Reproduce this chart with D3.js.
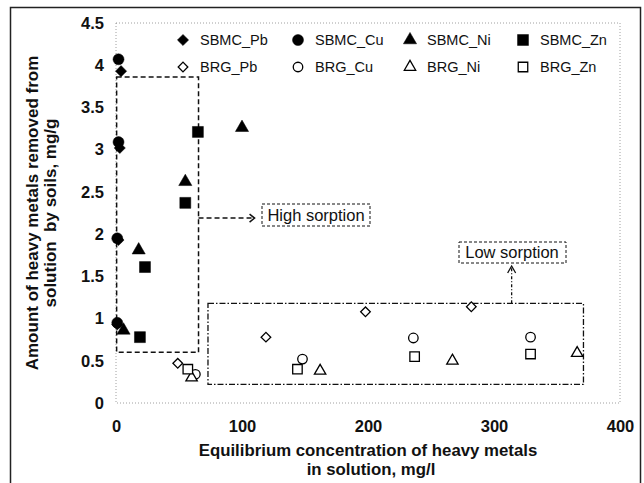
<!DOCTYPE html>
<html>
<head>
<meta charset="utf-8">
<script src="https://cdn.jsdelivr.net/npm/d3@7"></script>
<style>
  body { margin: 0; background: #fff; }
  svg { display: block; font-family: Arial, "Liberation Sans", sans-serif; }
</style>
</head>
<body>
<div id="chart"></div>
<script>
const xTicks = [0, 100, 200, 300, 400];
const yTicks = [0, 0.5, 1, 1.5, 2, 2.5, 3, 3.5, 4, 4.5];

// series: [concentration mg/l, amount mg/g]
const sbmcPb = [[4, 3.93], [3, 3.02], [2, 1.93], [1, 0.93]];
const sbmcCu = [[2, 4.07], [2, 3.09], [1, 1.95], [1, 0.95]];
const sbmcNi = [[100, 3.26], [55, 2.62], [18, 1.81], [6, 0.86]];
const sbmcZn = [[65, 3.21], [55, 2.37], [23, 1.61], [19, 0.78]];
const brgPb = [[49, 0.47], [119, 0.78], [198, 1.08], [282, 1.14]];
const brgCu = [[63, 0.34], [148, 0.52], [236, 0.77], [329, 0.78]];
const brgNi = [[60, 0.30], [162, 0.38], [267, 0.50], [366, 0.59]];
const brgZn = [[57, 0.40], [144, 0.40], [237, 0.55], [329, 0.58]];

const series = [
  { name: "SBMC_Pb", data: sbmcPb, shape: "diamond", filled: true },
  { name: "SBMC_Cu", data: sbmcCu, shape: "circle", filled: true },
  { name: "SBMC_Ni", data: sbmcNi, shape: "triangle", filled: true },
  { name: "SBMC_Zn", data: sbmcZn, shape: "square", filled: true },
  { name: "BRG_Pb", data: brgPb, shape: "diamond", filled: false },
  { name: "BRG_Cu", data: brgCu, shape: "circle", filled: false },
  { name: "BRG_Ni", data: brgNi, shape: "triangle", filled: false },
  { name: "BRG_Zn", data: brgZn, shape: "square", filled: false }
];

const width = 644, height = 483;
const margin = { left: 116, right: 24, top: 23, bottom: 80 };

const svg = d3.select("#chart").append("svg")
  .attr("width", width)
  .attr("height", height);

// outer frame
svg.append("rect")
  .attr("x", 10.5).attr("y", 7.5)
  .attr("width", 630).attr("height", 490)
  .attr("fill", "none").attr("stroke", "#222").attr("stroke-width", 1.5);

const x = d3.scaleLinear().domain([0, 400]).range([margin.left, width - margin.right]);
const y = d3.scaleLinear().domain([0, 4.5]).range([height - margin.bottom, margin.top]);

// plot area border (dotted)
svg.append("rect")
  .attr("x", x(0)).attr("y", y(4.5))
  .attr("width", x(400) - x(0)).attr("height", y(0) - y(4.5))
  .attr("fill", "none").attr("stroke", "#888")
  .attr("stroke-width", 0.8).attr("stroke-dasharray", "1,2");

// axes (labels only)
const xAxis = svg.append("g")
  .attr("transform", `translate(0,${y(0)})`)
  .call(d3.axisBottom(x).tickValues(xTicks).tickSize(0).tickPadding(17).tickFormat(d3.format("d")));
const yAxis = svg.append("g")
  .attr("transform", `translate(${x(0)},0)`)
  .call(d3.axisLeft(y).tickValues(yTicks).tickSize(0).tickPadding(12).tickFormat(d => d));
[xAxis, yAxis].forEach(a => {
  a.select(".domain").remove();
  a.selectAll("text")
    .attr("font-family", "Arial, 'Liberation Sans', sans-serif")
    .attr("font-size", 16.5).attr("font-weight", "bold").attr("fill", "#111");
});

// axis titles
const xt = svg.append("text")
  .attr("text-anchor", "middle")
  .attr("font-size", 16.8).attr("font-weight", "bold").attr("fill", "#111");
xt.append("tspan").attr("x", 368).attr("y", 456).text("Equilibrium concentration of heavy metals");
xt.append("tspan").attr("x", 371).attr("y", 475).text("in solution, mg/l");

const yt = svg.append("text")
  .attr("transform", "translate(38,213) rotate(-90)")
  .attr("text-anchor", "middle")
  .attr("font-size", 17).attr("font-weight", "bold").attr("fill", "#111");
yt.append("tspan").attr("x", 0).attr("y", 0).text("Amount of heavy metals removed from");
yt.append("tspan").attr("x", 0).attr("y", 18).attr("xml:space", "preserve").text("solution  by soils, mg/g");

// annotation: high sorption
const hi = svg.append("g").attr("fill", "none").attr("stroke", "#111").attr("stroke-width", 1.5);
hi.append("rect")
  .attr("x", x(0.5)).attr("y", y(3.86))
  .attr("width", x(65.5) - x(0.5)).attr("height", y(0.6) - y(3.86))
  .attr("stroke-dasharray", "5,3");
hi.append("path")
  .attr("d", `M${x(65.5)},${y(2.19)}H${x(110)}`)
  .attr("stroke-dasharray", "5,3");
hi.append("path")
  .attr("d", `M${x(106)},${y(2.19) - 4}L${x(110)},${y(2.19)}L${x(106)},${y(2.19) + 4}`);
hi.append("rect")
  .attr("x", 262).attr("y", 204).attr("width", 108).attr("height", 22)
  .attr("stroke-width", 1).attr("stroke-dasharray", "3,2");
svg.append("text")
  .attr("x", 316).attr("y", 221).attr("text-anchor", "middle")
  .attr("font-size", 16.5).attr("fill", "#111").text("High sorption");

// annotation: low sorption
const lo = svg.append("g").attr("fill", "none").attr("stroke", "#111").attr("stroke-width", 1.3);
lo.append("rect")
  .attr("x", x(73)).attr("y", y(1.18))
  .attr("width", x(371) - x(73)).attr("height", y(0.22) - y(1.18))
  .attr("stroke-dasharray", "6,2,1.5,2");
lo.append("path")
  .attr("d", `M${x(314)},${y(1.18)}V268`)
  .attr("stroke-dasharray", "3,2,1,2");
lo.append("path")
  .attr("d", `M${x(314) - 4},273L${x(314)},266L${x(314) + 4},273`);
lo.append("rect")
  .attr("x", 459).attr("y", 242).attr("width", 107).attr("height", 21)
  .attr("stroke-width", 1).attr("stroke-dasharray", "3,2");
svg.append("text")
  .attr("x", 512).attr("y", 258).attr("text-anchor", "middle")
  .attr("font-size", 16.5).attr("fill", "#111").text("Low sorption");

// marker drawing
const symbolFor = (shape, filled) => {
  const s = filled ? 1 : 0.75;
  if (shape === "diamond") return d3.symbol(d3.symbolSquare, 62 * s)();
  if (shape === "circle") return d3.symbol(d3.symbolCircle, 95 * s)();
  if (shape === "triangle") return d3.symbol(d3.symbolTriangle, 75 * s)();
  return d3.symbol(d3.symbolSquare, 120 * s)();
};

function drawMarker(g, shape, filled, cx, cy) {
  g.append("path")
    .attr("d", symbolFor(shape, filled))
    .attr("transform", `translate(${cx},${cy})` + (shape === "diamond" ? " rotate(45)" : ""))
    .attr("fill", filled ? "#000" : "#fff")
    .attr("stroke", "#000")
    .attr("stroke-width", filled ? 0.5 : 1.3);
}

const pts = svg.append("g");
series.forEach(s => {
  s.data.forEach(d => drawMarker(pts, s.shape, s.filled, x(d[0]), y(d[1])));
});

// legend
const legX = [183, 298, 410, 523];
const legY = [40, 67];
const leg = svg.append("g");
series.forEach((s, i) => {
  const cx = legX[i % 4], cy = legY[Math.floor(i / 4)];
  drawMarker(leg, s.shape, s.filled, cx, cy);
  leg.append("text")
    .attr("x", cx + 17).attr("y", cy + 5)
    .attr("font-size", 14.5).attr("fill", "#111")
    .text(s.name);
});
</script>
</body>
</html>
